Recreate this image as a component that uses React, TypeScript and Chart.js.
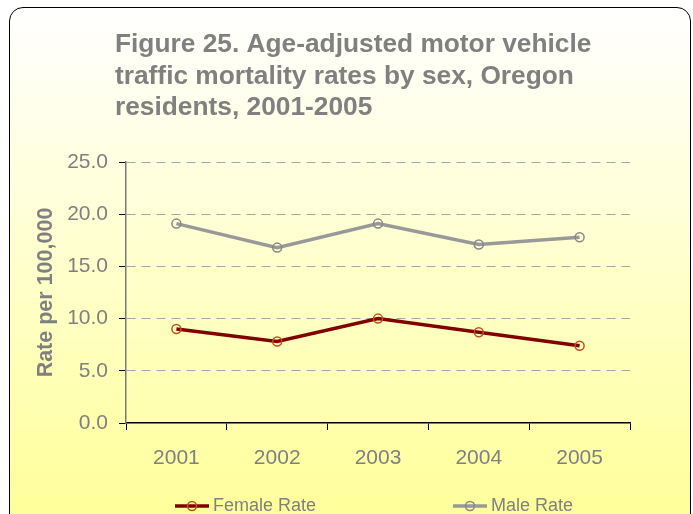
import React, { useEffect, useRef } from "react";
import { Chart, registerables } from "chart.js";

Chart.register(...registerables);

const years = ["2001", "2002", "2003", "2004", "2005"];
const femaleRate = [9.0, 7.8, 10.0, 8.7, 7.4];
const maleRate = [19.1, 16.8, 19.1, 17.1, 17.8];
const seriesLabels = ["Female Rate", "Male Rate"];
const titleLines = [
  "Figure 25. Age-adjusted motor vehicle",
  "traffic mortality rates by sex, Oregon",
  "residents, 2001-2005",
];
const yAxisTitle = "Rate per 100,000";
const yMin = 0;
const yMax = 25;
const yStep = 5;

const FONT = "'Liberation Sans', Arial, Helvetica, sans-serif";
const GREY_TEXT = "#808080";

const titlePlugin = {
  id: "leftTitle",
  afterDraw(chart: any) {
    const ctx = chart.ctx;
    ctx.save();
    ctx.fillStyle = GREY_TEXT;
    ctx.font = `bold 26.3px ${FONT}`;
    ctx.textAlign = "left";
    ctx.textBaseline = "middle";
    titleLines.forEach((line, i) => {
      ctx.fillText(line, 115, 45 + i * 31.5);
    });
    ctx.restore();
  },
};

const legendPlugin = {
  id: "lineLegend",
  afterDraw(chart: any) {
    const ctx = chart.ctx;
    const starts = [175, 453];
    const y = 506;
    ctx.save();
    chart.data.datasets.forEach((ds: any, i: number) => {
      const x0 = starts[i];
      ctx.strokeStyle = ds.borderColor;
      ctx.lineWidth = ds.borderWidth;
      ctx.beginPath();
      ctx.moveTo(x0, y);
      ctx.lineTo(x0 + 34, y);
      ctx.stroke();
      ctx.strokeStyle = ds.pointBorderColor;
      ctx.lineWidth = ds.pointBorderWidth;
      ctx.beginPath();
      ctx.arc(x0 + 17, y, ds.pointRadius, 0, Math.PI * 2);
      ctx.stroke();
      ctx.fillStyle = GREY_TEXT;
      ctx.font = `18px ${FONT}`;
      ctx.textAlign = "left";
      ctx.textBaseline = "middle";
      ctx.fillText(ds.label, x0 + 38, y);
    });
    ctx.restore();
  },
};

export default function App() {
  const canvasRef = useRef<HTMLCanvasElement | null>(null);

  useEffect(() => {
    const canvas = canvasRef.current;
    if (!canvas) return;
    const chart = new Chart(canvas, {
      type: "line",
      data: {
        labels: years,
        datasets: [
          {
            label: seriesLabels[0],
            data: femaleRate,
            borderColor: "#800000",
            borderWidth: 3.5,
            pointRadius: 4.5,
            pointBorderWidth: 1.5,
            pointBorderColor: "#C0501E",
            pointBackgroundColor: "rgba(0,0,0,0)",
            tension: 0,
          },
          {
            label: seriesLabels[1],
            data: maleRate,
            borderColor: "#999999",
            borderWidth: 3.5,
            pointRadius: 4.5,
            pointBorderWidth: 1.5,
            pointBorderColor: "#888888",
            pointBackgroundColor: "rgba(0,0,0,0)",
            tension: 0,
          },
        ],
      },
      options: {
        responsive: false,
        animation: false,
        layout: { padding: { left: 36, right: 63, top: 162, bottom: 43 } },
        plugins: {
          legend: { display: false },
          title: { display: false },
          tooltip: { enabled: false },
        },
        scales: {
          x: {
            type: "category",
            offset: true,
            grid: {
              offset: true,
              drawOnChartArea: false,
              drawTicks: true,
              tickLength: 7,
              tickColor: "#000000",
              tickWidth: 1,
              color: "#000000",
            },
            border: { color: "#000000", width: 1.5 },
            ticks: {
              color: GREY_TEXT,
              font: { family: FONT, size: 21 },
              padding: 16,
              maxRotation: 0,
            },
            afterFit: (s: any) => {
              s.height = 48;
            },
          },
          y: {
            min: yMin,
            max: yMax,
            grid: {
              color: (c: any) => (c.tick && c.tick.value === 0 ? "rgba(0,0,0,0)" : "#A6A6A6"),
              lineWidth: 1,
              drawTicks: true,
              tickLength: 7,
              tickColor: "#000000",
              tickWidth: 1,
              tickBorderDash: [],
            },
            border: { color: "#7A7A7A", width: 1.5, dash: [9, 6] },
            ticks: {
              stepSize: yStep,
              color: GREY_TEXT,
              font: { family: FONT, size: 21 },
              padding: 11,
              callback: (v: any) => Number(v).toFixed(1),
            },
            title: {
              display: true,
              text: yAxisTitle,
              color: GREY_TEXT,
              font: { family: FONT, size: 21.5, weight: "bold" },
              padding: { top: -3, bottom: 0 },
            },
            afterFit: (s: any) => {
              s.width = 90;
            },
          },
        },
      },
      plugins: [titlePlugin, legendPlugin],
    });
    return () => chart.destroy();
  }, []);

  return (
    <div
      style={{
        position: "fixed",
        left: 0,
        top: 0,
        width: 693,
        height: 514,
        overflow: "hidden",
        background: "#ffffff",
      }}
    >
      <div
        style={{
          position: "absolute",
          left: 9,
          top: 7,
          width: 682,
          height: 530,
          boxSizing: "border-box",
          border: "1.5px solid #000",
          borderRadius: 14,
          background: "linear-gradient(to bottom, #FFFFFF 0%, #FFFFF0 15%, #FFFF96 100%)",
        }}
      />
      <canvas
        ref={canvasRef}
        width={693}
        height={514}
        style={{ position: "absolute", left: 0, top: 0, width: 693, height: 514 }}
      />
    </div>
  );
}
